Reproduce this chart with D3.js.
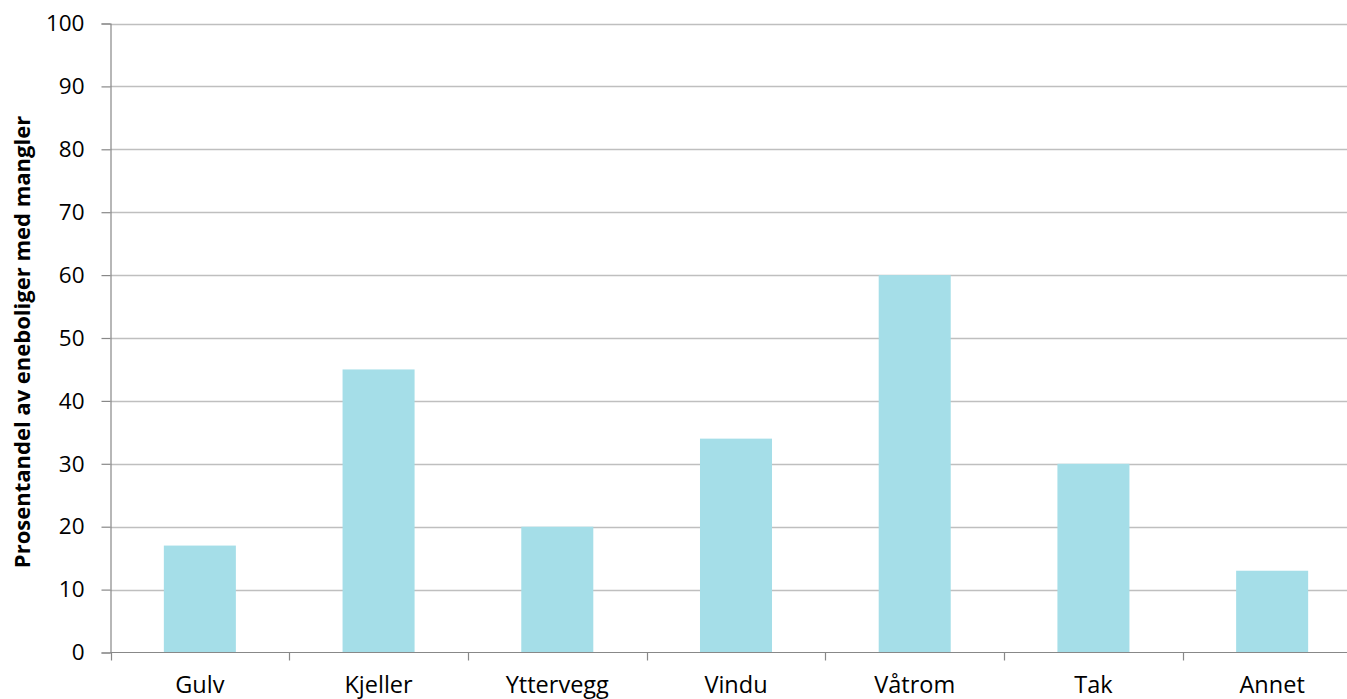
<!DOCTYPE html>
<html>
<head>
<meta charset="utf-8">
<script src="https://cdn.jsdelivr.net/npm/d3@7/dist/d3.min.js"></script>
<style>
  html, body { margin: 0; padding: 0; background: #fff; }
  svg { display: block; }
  text { font-family: "Open Sans", "Liberation Sans", sans-serif; fill: #000; }
</style>
</head>
<body>
<svg id="chart" width="1347" height="699"></svg>
<script>
// Share of detached houses with defects, by building part
const categories = ["Gulv", "Kjeller", "Yttervegg", "Vindu", "Våtrom", "Tak", "Annet"];
const values = [17, 45, 20, 34, 60, 30, 13];
const yTicks = [0, 10, 20, 30, 40, 50, 60, 70, 80, 90, 100];
const yTitle = "Prosentandel av eneboliger med mangler";

const svg = d3.select("#chart");
const plotLeft = 110.5, plotTop = 23.5, plotBottom = 652.5, plotWidth = 1251;

const x = d3.scaleBand().domain(categories).range([plotLeft, plotLeft + plotWidth]).paddingInner(0.597).paddingOuter(0.2985);
const xOuter = d3.scaleBand().domain(categories).range([plotLeft, plotLeft + plotWidth]);
const y = d3.scaleLinear().domain([0, 100]).range([plotBottom, plotTop]);

// horizontal gridlines
svg.append("g")
  .selectAll("line")
  .data(yTicks.filter(d => d > 0))
  .join("line")
  .attr("x1", plotLeft).attr("x2", plotLeft + plotWidth)
  .attr("y1", d => Math.round(y(d)) + 0.5).attr("y2", d => Math.round(y(d)) + 0.5)
  .attr("stroke", "#bfbfbf").attr("stroke-width", 1.3);

// bars
svg.append("g")
  .selectAll("rect")
  .data(categories.map((c, i) => ({ c, v: values[i] })))
  .join("rect")
  .attr("x", d => x(d.c))
  .attr("width", x.bandwidth())
  .attr("y", d => y(d.v))
  .attr("height", d => y(0) - y(d.v))
  .attr("fill", "#a5dee8");

// y axis
const yAxis = svg.append("g")
  .attr("transform", `translate(${plotLeft},0)`)
  .call(d3.axisLeft(y).tickValues(yTicks).tickSize(9).tickPadding(17).tickFormat(d3.format("d")));
yAxis.select(".domain").attr("stroke", "#888").attr("stroke-width", 1.2);
yAxis.selectAll(".tick line").attr("stroke", "#888").attr("stroke-width", 1.2);
yAxis.selectAll(".tick text").attr("font-size", 22.5).attr("font-family", "Open Sans, sans-serif").attr("fill", "#000");

// x axis with ticks on the category boundaries
const xAxisG = svg.append("g").attr("transform", `translate(0,${plotBottom})`);
xAxisG.append("line")
  .attr("x1", plotLeft).attr("x2", plotLeft + plotWidth)
  .attr("stroke", "#888").attr("stroke-width", 1.2);
const boundaries = categories.map(c => xOuter(c)).concat([plotLeft + plotWidth]);
xAxisG.selectAll("line.tk")
  .data(boundaries)
  .join("line").attr("class", "tk")
  .attr("x1", d => Math.round(d) + 0.5).attr("x2", d => Math.round(d) + 0.5)
  .attr("y1", 0).attr("y2", 8)
  .attr("stroke", "#888").attr("stroke-width", 1.2);
xAxisG.selectAll("text")
  .data(categories)
  .join("text")
  .attr("x", d => xOuter(d) + xOuter.bandwidth() / 2)
  .attr("y", 40)
  .attr("text-anchor", "middle")
  .attr("font-size", 23.5)
  .text(d => d);

// y axis title
svg.append("text")
  .attr("transform", `translate(30,${(plotTop + plotBottom) / 2 + 4}) rotate(-90)`)
  .attr("text-anchor", "middle")
  .attr("font-size", 22)
  .attr("font-weight", "bold")
  .text(yTitle);
</script>
</body>
</html>
